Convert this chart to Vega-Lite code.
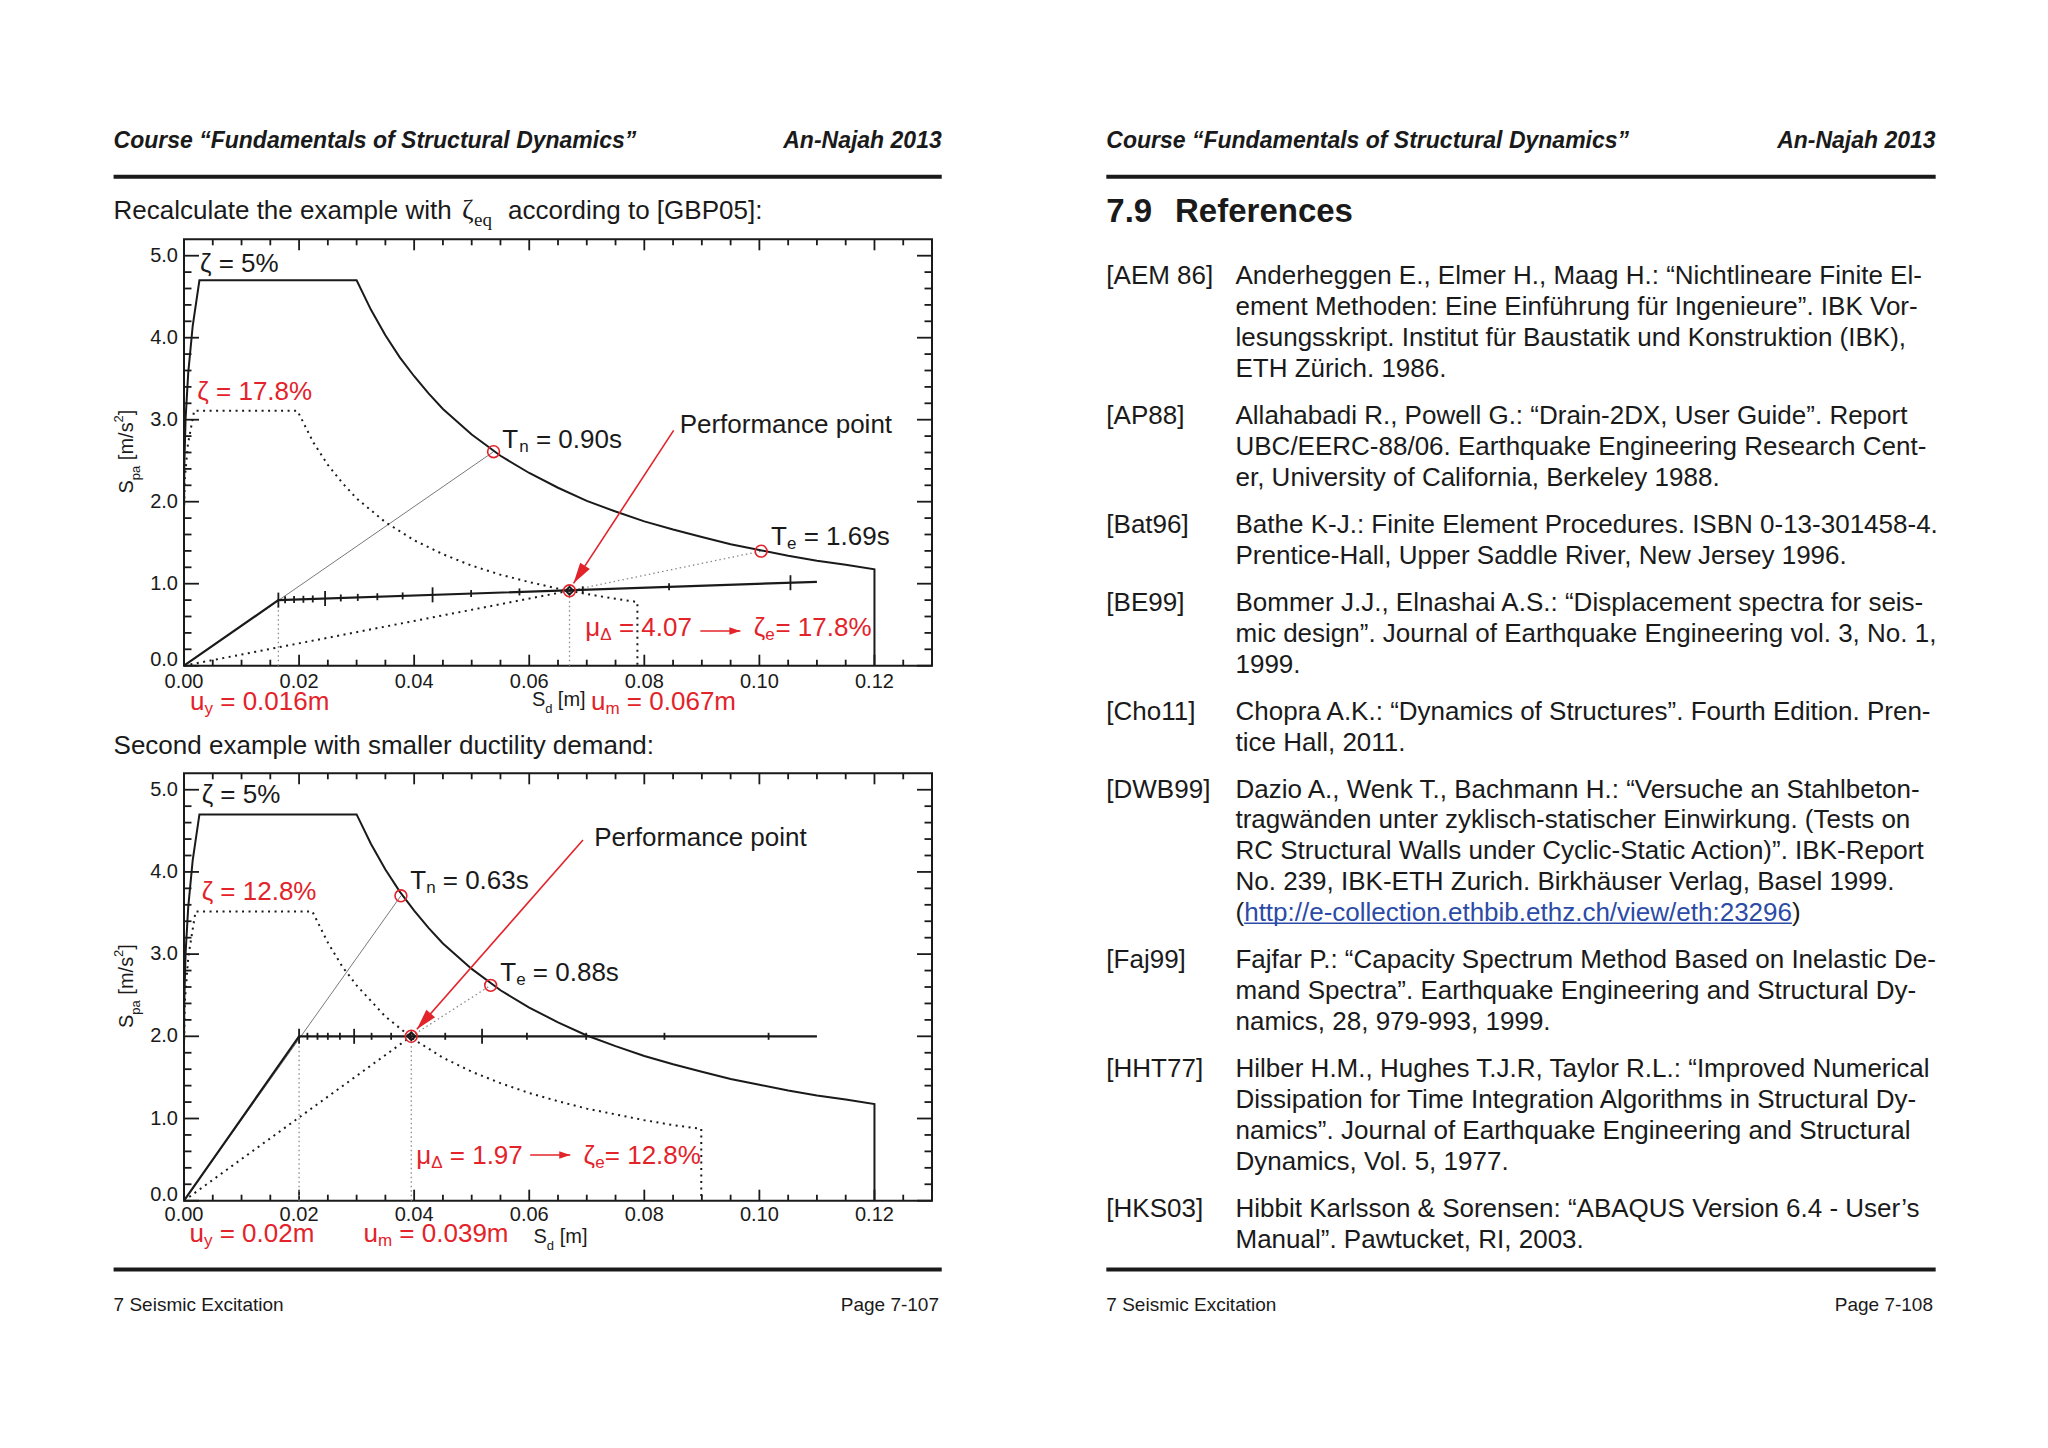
{
"$schema":"https://vega.github.io/schema/vega-lite/v6.json",
"width":2048,"height":1448,"autosize":{"type":"none"},"padding":0,"background":"#ffffff",
"config":{"view":{"stroke":null},"text":{"font":"Liberation Sans","color":"#1a1a1a"}},
"datasets":{
"pg_rules":[{"x":16.47,"x2":136.57,"y":25.62},{"x":160.44,"x2":280.71,"y":25.62},{"x":16.47,"x2":136.57,"y":184.13},{"x":160.44,"x2":280.71,"y":184.13}],
"pg_head_l":[{"x":16.47,"y":20.38,"t":"Course “Fundamentals of Structural Dynamics”"},{"x":160.44,"y":20.38,"t":"Course “Fundamentals of Structural Dynamics”"}],
"pg_head_r":[{"x":136.57,"y":20.38,"t":"An-Najah 2013"},{"x":280.71,"y":20.38,"t":"An-Najah 2013"}],
"pg_sec":[{"x":160.44,"y":30.74,"t":"7.9"},{"x":170.4,"y":30.74,"t":"References"}],
"pg_body":[
{"x":16.47,"y":30.6,"t":"Recalculate the example with"},
{"x":73.67,"y":30.6,"t":"according to [GBP05]:"},
{"x":16.47,"y":108.19,"t":"Second example with smaller ductility demand:"},
{"x":160.44,"y":40.03,"t":"[AEM 86]"},
{"x":160.44,"y":60.32,"t":"[AP88]"},
{"x":160.44,"y":76.11,"t":"[Bat96]"},
{"x":160.44,"y":87.41,"t":"[BE99]"},
{"x":160.44,"y":103.2,"t":"[Cho11]"},
{"x":160.44,"y":114.5,"t":"[DWB99]"},
{"x":160.44,"y":139.28,"t":"[Faj99]"},
{"x":160.44,"y":155.07,"t":"[HHT77]"},
{"x":160.44,"y":175.36,"t":"[HKS03]"},
{"x":179.17,"y":40.03,"t":"Anderheggen E., Elmer H., Maag H.: “Nichtlineare Finite El-"},
{"x":179.17,"y":44.52,"t":"ement Methoden: Eine Einführung für Ingenieure”. IBK Vor-"},
{"x":179.17,"y":49.02,"t":"lesungsskript. Institut für Baustatik und Konstruktion (IBK),"},
{"x":179.17,"y":53.52,"t":"ETH Zürich. 1986."},
{"x":179.17,"y":60.32,"t":"Allahabadi R., Powell G.: “Drain-2DX, User Guide”. Report"},
{"x":179.17,"y":64.81,"t":"UBC/EERC-88/06. Earthquake Engineering Research Cent-"},
{"x":179.17,"y":69.31,"t":"er, University of California, Berkeley 1988."},
{"x":179.17,"y":76.11,"t":"Bathe K-J.: Finite Element Procedures. ISBN 0-13-301458-4."},
{"x":179.17,"y":80.61,"t":"Prentice-Hall, Upper Saddle River, New Jersey 1996."},
{"x":179.17,"y":87.41,"t":"Bommer J.J., Elnashai A.S.: “Displacement spectra for seis-"},
{"x":179.17,"y":91.9,"t":"mic design”. Journal of Earthquake Engineering vol. 3, No. 1,"},
{"x":179.17,"y":96.4,"t":"1999."},
{"x":179.17,"y":103.2,"t":"Chopra A.K.: “Dynamics of Structures”. Fourth Edition. Pren-"},
{"x":179.17,"y":107.7,"t":"tice Hall, 2011."},
{"x":179.17,"y":114.5,"t":"Dazio A., Wenk T., Bachmann H.: “Versuche an Stahlbeton-"},
{"x":179.17,"y":118.99,"t":"tragwänden unter zyklisch-statischer Einwirkung. (Tests on"},
{"x":179.17,"y":123.49,"t":"RC Structural Walls under Cyclic-Static Action)”. IBK-Report"},
{"x":179.17,"y":127.98,"t":"No. 239, IBK-ETH Zurich. Birkhäuser Verlag, Basel 1999."},
{"x":179.17,"y":132.48,"t":"("},
{"x":259.86,"y":132.48,"t":")"},
{"x":179.17,"y":139.28,"t":"Fajfar P.: “Capacity Spectrum Method Based on Inelastic De-"},
{"x":179.17,"y":143.78,"t":"mand Spectra”. Earthquake Engineering and Structural Dy-"},
{"x":179.17,"y":148.27,"t":"namics, 28, 979-993, 1999."},
{"x":179.17,"y":155.07,"t":"Hilber H.M., Hughes T.J.R, Taylor R.L.: “Improved Numerical"},
{"x":179.17,"y":159.57,"t":"Dissipation for Time Integration Algorithms in Structural Dy-"},
{"x":179.17,"y":164.07,"t":"namics”. Journal of Earthquake Engineering and Structural"},
{"x":179.17,"y":168.56,"t":"Dynamics, Vol. 5, 1977."},
{"x":179.17,"y":175.36,"t":"Hibbit Karlsson & Sorensen: “ABAQUS Version 6.4 - User’s"},
{"x":179.17,"y":179.86,"t":"Manual”. Pawtucket, RI, 2003."}
],
"pg_zeta":[{"x":67.0,"y":30.6,"t":"ζ"}],
"pg_eq":[{"x":68.74,"y":30.6,"t":"eq"}],
"pg_link":[{"x":180.43,"y":132.48,"t":"http://e-collection.ethbib.ethz.ch/view/eth:23296"}],
"pg_ul":[{"x":180.43,"x2":259.86,"y":133.9}],
"pg_foot_l":[{"x":16.47,"y":189.22,"t":"7 Seismic Excitation"},{"x":160.44,"y":189.22,"t":"7 Seismic Excitation"}],
"pg_foot_r":[{"x":136.17,"y":189.22,"t":"Page 7-107"},{"x":280.32,"y":189.22,"t":"Page 7-108"}],
"ymaj":[{"v":0},{"v":1},{"v":2},{"v":3},{"v":4},{"v":5}],
"ymin":[{"v":0.2},{"v":0.4},{"v":0.6},{"v":0.8},{"v":1.2},{"v":1.4},{"v":1.6},{"v":1.8},{"v":2.2},{"v":2.4},{"v":2.6},{"v":2.8},{"v":3.2},{"v":3.4},{"v":3.6},{"v":3.8},{"v":4.2},{"v":4.4},{"v":4.6},{"v":4.8}],
"xmaj":[{"v":0},{"v":0.02},{"v":0.04},{"v":0.06},{"v":0.08},{"v":0.1},{"v":0.12}],
"xmin":[{"v":0.005},{"v":0.01},{"v":0.015},{"v":0.025},{"v":0.03},{"v":0.035},{"v":0.045},{"v":0.05},{"v":0.055},{"v":0.065},{"v":0.07},{"v":0.075},{"v":0.085},{"v":0.09},{"v":0.095},{"v":0.105},{"v":0.11},{"v":0.115},{"v":0.125}],
"spec5":[{"x":0,"y":1.88},{"x":0.000056,"y":2.44},{"x":0.000274,"y":3.01},{"x":0.000733,"y":3.57},{"x":0.00151,"y":4.14},{"x":0.00268,"y":4.7},{"x":0.03,"y":4.7},{"x":0.0325,"y":4.34},{"x":0.035,"y":4.03},{"x":0.0375,"y":3.76},{"x":0.04,"y":3.53},{"x":0.0425,"y":3.32},{"x":0.045,"y":3.13},{"x":0.05,"y":2.82},{"x":0.055,"y":2.56},{"x":0.06,"y":2.35},{"x":0.065,"y":2.17},{"x":0.07,"y":2.01},{"x":0.075,"y":1.88},{"x":0.08,"y":1.76},{"x":0.085,"y":1.66},{"x":0.09,"y":1.57},{"x":0.095,"y":1.48},{"x":0.1,"y":1.41},{"x":0.105,"y":1.34},{"x":0.11,"y":1.28},{"x":0.115,"y":1.23},{"x":0.12,"y":1.175},{"x":0.12,"y":0}],
"T_spec":[{"x":0,"y":1.88},{"x":0.000145,"y":2.29},{"x":0.000684,"y":2.7},{"x":0.00177,"y":3.11},{"x":0.0197,"y":3.11},{"x":0.0225,"y":2.72},{"x":0.025,"y":2.45},{"x":0.0275,"y":2.23},{"x":0.03,"y":2.04},{"x":0.035,"y":1.75},{"x":0.04,"y":1.53},{"x":0.045,"y":1.36},{"x":0.05,"y":1.22},{"x":0.055,"y":1.11},{"x":0.06,"y":1.02},{"x":0.065,"y":0.94},{"x":0.07,"y":0.874},{"x":0.075,"y":0.816},{"x":0.0788,"y":0.777},{"x":0.0788,"y":0}],
"B_spec":[{"x":0,"y":1.88},{"x":0.000154,"y":2.43},{"x":0.000753,"y":2.97},{"x":0.00201,"y":3.52},{"x":0.0223,"y":3.52},{"x":0.025,"y":3.14},{"x":0.0275,"y":2.85},{"x":0.03,"y":2.62},{"x":0.035,"y":2.24},{"x":0.04,"y":1.96},{"x":0.045,"y":1.74},{"x":0.05,"y":1.57},{"x":0.055,"y":1.43},{"x":0.06,"y":1.31},{"x":0.065,"y":1.21},{"x":0.07,"y":1.12},{"x":0.075,"y":1.05},{"x":0.08,"y":0.98},{"x":0.085,"y":0.92},{"x":0.0899,"y":0.873},{"x":0.0899,"y":0}],
"T_cap":[{"x":0,"y":0},{"x":0.0164,"y":0.8},{"x":0.11,"y":1.023}],
"B_cap":[{"x":0,"y":0},{"x":0.02,"y":2.0},{"x":0.11,"y":2.0}],
"T_tkM":[{"x":0.0164,"y":0.8},{"x":0.02452,"y":0.819},{"x":0.0432,"y":0.864},{"x":0.1054,"y":1.012}],
"T_tkm":[{"x":0.01757,"y":0.803},{"x":0.01913,"y":0.806},{"x":0.02075,"y":0.81},{"x":0.02238,"y":0.814},{"x":0.02725,"y":0.826},{"x":0.0302,"y":0.833},{"x":0.0336,"y":0.841},{"x":0.038,"y":0.851},{"x":0.0499,"y":0.88},{"x":0.0583,"y":0.9},{"x":0.0693,"y":0.926},{"x":0.0843,"y":0.962}],
"B_tkM":[{"x":0.02,"y":2},{"x":0.02957,"y":2},{"x":0.0518,"y":2}],
"B_tkm":[{"x":0.02145,"y":2},{"x":0.0232,"y":2},{"x":0.025,"y":2},{"x":0.0271,"y":2},{"x":0.0326,"y":2},{"x":0.036,"y":2},{"x":0.0394,"y":2},{"x":0.0454,"y":2},{"x":0.0596,"y":2},{"x":0.0699,"y":2},{"x":0.0835,"y":2},{"x":0.1016,"y":2}],
"T_sg":[{"x":0,"y":0,"x2":0.0538,"y2":2.61}],
"T_sb":[{"x":0,"y":0,"x2":0.067,"y2":0.914}],
"T_sd":[{"x":0.067,"y":0.914,"x2":0.1003,"y2":1.397},{"x":0.0164,"y":0,"x2":0.0164,"y2":0.8},{"x":0.067,"y":0,"x2":0.067,"y2":0.914}],
"T_sr":[{"x":0.0851,"y":2.87,"x2":0.0677,"y2":1.004},{"x":0.08974,"y":0.423,"x2":0.0967,"y2":0.423}],
"T_hb":[{"x":0.0677,"y":1.004}],
"T_hs":[{"x":0.0967,"y":0.423}],
"T_circ":[{"x":0.0538,"y":2.61},{"x":0.1003,"y":1.397},{"x":0.067,"y":0.914}],
"T_diam":[{"x":0.067,"y":0.914}],
"B_sg":[{"x":0,"y":0,"x2":0.0377,"y2":3.71}],
"B_sb":[{"x":0,"y":0,"x2":0.0395,"y2":2.0}],
"B_sd":[{"x":0.0395,"y":2.0,"x2":0.0533,"y2":2.62},{"x":0.02,"y":0,"x2":0.02,"y2":2.0},{"x":0.0395,"y":0,"x2":0.0395,"y2":2.0}],
"B_sr":[{"x":0.06934,"y":4.388,"x2":0.04047,"y2":2.085},{"x":0.06017,"y":0.556,"x2":0.06713,"y2":0.556}],
"B_hb":[{"x":0.04047,"y":2.085}],
"B_hs":[{"x":0.06713,"y":0.556}],
"B_circ":[{"x":0.0377,"y":3.71},{"x":0.0533,"y":2.62},{"x":0.0395,"y":2.0}],
"B_diam":[{"x":0.0395,"y":2.0}],
"T_tb":[{"x":0.00278,"y":4.9,"t":"ζ = 5%"},{"x":0.0553,"y":2.75,"t":"T"},{"x":0.06117,"y":2.75,"t":"= 0.90s"},{"x":0.10203,"y":1.571,"t":"T"},{"x":0.10769,"y":1.571,"t":"= 1.69s"},{"x":0.08614,"y":2.932,"t":"Performance point"}],
"T_tbs":[{"x":0.05826,"y":2.75,"t":"n"},{"x":0.1048,"y":1.571,"t":"e"}],
"T_tr":[{"x":0.00232,"y":3.337,"t":"ζ = 17.8%"},{"x":0.06974,"y":0.455,"t":"μ"},{"x":0.07558,"y":0.455,"t":"= 4.07"},{"x":0.09901,"y":0.455,"t":"ζ"},{"x":0.10278,"y":0.455,"t":"= 17.8%"},{"x":0.00104,"y":-0.44,"t":"u"},{"x":0.0063,"y":-0.44,"t":"= 0.016m"},{"x":0.07073,"y":-0.44,"t":"u"},{"x":0.07697,"y":-0.44,"t":"= 0.067m"}],
"T_trs":[{"x":0.07235,"y":0.455,"t":"Δ"},{"x":0.10104,"y":0.455,"t":"e"},{"x":0.00357,"y":-0.44,"t":"y"},{"x":0.07325,"y":-0.44,"t":"m"}],
"T_ax":[{"x":0.06047,"y":-0.418,"t":"S"},{"x":0.06497,"y":-0.418,"t":"[m]"}],
"T_axs":[{"x":0.06278,"y":-0.418,"t":"d"}],
"B_tb":[{"x":0.00307,"y":4.936,"t":"ζ = 5%"},{"x":0.0393,"y":3.893,"t":"T"},{"x":0.04497,"y":3.893,"t":"= 0.63s"},{"x":0.05496,"y":2.766,"t":"T"},{"x":0.06063,"y":2.766,"t":"= 0.88s"},{"x":0.0713,"y":4.409,"t":"Performance point"}],
"B_tbs":[{"x":0.04209,"y":3.893,"t":"n"},{"x":0.05774,"y":2.766,"t":"e"}],
"B_tr":[{"x":0.00307,"y":3.759,"t":"ζ = 12.8%"},{"x":0.04035,"y":0.544,"t":"μ"},{"x":0.04619,"y":0.544,"t":"= 1.97"},{"x":0.06944,"y":0.544,"t":"ζ"},{"x":0.07313,"y":0.544,"t":"= 12.8%"},{"x":0.00094,"y":-0.41,"t":"u"},{"x":0.0062,"y":-0.41,"t":"= 0.02m"},{"x":0.03119,"y":-0.41,"t":"u"},{"x":0.03743,"y":-0.41,"t":"= 0.039m"}],
"B_trs":[{"x":0.04296,"y":0.544,"t":"Δ"},{"x":0.07148,"y":0.544,"t":"e"},{"x":0.00346,"y":-0.41,"t":"y"},{"x":0.0337,"y":-0.41,"t":"m"}],
"B_ax":[{"x":0.06075,"y":-0.438,"t":"S"},{"x":0.06529,"y":-0.438,"t":"[m]"}],
"B_axs":[{"x":0.06306,"y":-0.438,"t":"d"}],
"yt":[{"x":-0.00997,"y":2.1,"t":"S"},{"x":-0.00997,"y":2.507,"t":"[m/s"},{"x":-0.00997,"y":3.054,"t":"]"}],
"yts":[{"x":-0.00997,"y":2.262,"t":"pa"}],
"ytp":[{"x":-0.00997,"y":2.966,"t":"2"}]
},
"layer":[
{"layer":[
{"data":{"name":"pg_rules"},"mark":{"type":"rule","stroke":"#1a1a1a","strokeWidth":4},"encoding":{"x":{"field":"x","type":"quantitative","scale":{"domain":[0,297],"range":[0,2048],"nice":false,"zero":false},"axis":null},"x2":{"field":"x2"},"y":{"field":"y","type":"quantitative","scale":{"domain":[0,210],"range":[0,1448],"nice":false,"zero":false},"axis":null}}},
{"data":{"name":"pg_head_l"},"mark":{"type":"text","fontSize":23,"fontWeight":"bold","fontStyle":"italic","align":"left","baseline":"middle"},"encoding":{"x":{"field":"x","type":"quantitative","scale":{"domain":[0,297],"range":[0,2048],"nice":false,"zero":false},"axis":null},"y":{"field":"y","type":"quantitative","scale":{"domain":[0,210],"range":[0,1448],"nice":false,"zero":false},"axis":null},"text":{"field":"t","type":"nominal"}}},
{"data":{"name":"pg_head_r"},"mark":{"type":"text","fontSize":23,"fontWeight":"bold","fontStyle":"italic","align":"right","baseline":"middle"},"encoding":{"x":{"field":"x","type":"quantitative","scale":{"domain":[0,297],"range":[0,2048],"nice":false,"zero":false},"axis":null},"y":{"field":"y","type":"quantitative","scale":{"domain":[0,210],"range":[0,1448],"nice":false,"zero":false},"axis":null},"text":{"field":"t","type":"nominal"}}},
{"data":{"name":"pg_sec"},"mark":{"type":"text","fontSize":33,"fontWeight":"bold","align":"left","baseline":"middle"},"encoding":{"x":{"field":"x","type":"quantitative","scale":{"domain":[0,297],"range":[0,2048],"nice":false,"zero":false},"axis":null},"y":{"field":"y","type":"quantitative","scale":{"domain":[0,210],"range":[0,1448],"nice":false,"zero":false},"axis":null},"text":{"field":"t","type":"nominal"}}},
{"data":{"name":"pg_body"},"mark":{"type":"text","fontSize":26,"align":"left","baseline":"middle"},"encoding":{"x":{"field":"x","type":"quantitative","scale":{"domain":[0,297],"range":[0,2048],"nice":false,"zero":false},"axis":null},"y":{"field":"y","type":"quantitative","scale":{"domain":[0,210],"range":[0,1448],"nice":false,"zero":false},"axis":null},"text":{"field":"t","type":"nominal"}}},
{"data":{"name":"pg_zeta"},"mark":{"type":"text","font":"Liberation Serif","fontSize":28,"align":"left","baseline":"middle"},"encoding":{"x":{"field":"x","type":"quantitative","scale":{"domain":[0,297],"range":[0,2048],"nice":false,"zero":false},"axis":null},"y":{"field":"y","type":"quantitative","scale":{"domain":[0,210],"range":[0,1448],"nice":false,"zero":false},"axis":null},"text":{"field":"t","type":"nominal"}}},
{"data":{"name":"pg_eq"},"mark":{"type":"text","font":"Liberation Serif","fontSize":19,"align":"left","baseline":"middle","dy":9},"encoding":{"x":{"field":"x","type":"quantitative","scale":{"domain":[0,297],"range":[0,2048],"nice":false,"zero":false},"axis":null},"y":{"field":"y","type":"quantitative","scale":{"domain":[0,210],"range":[0,1448],"nice":false,"zero":false},"axis":null},"text":{"field":"t","type":"nominal"}}},
{"data":{"name":"pg_link"},"mark":{"type":"text","fontSize":26,"align":"left","baseline":"middle","color":"#2b4ba6"},"encoding":{"x":{"field":"x","type":"quantitative","scale":{"domain":[0,297],"range":[0,2048],"nice":false,"zero":false},"axis":null},"y":{"field":"y","type":"quantitative","scale":{"domain":[0,210],"range":[0,1448],"nice":false,"zero":false},"axis":null},"text":{"field":"t","type":"nominal"}}},
{"data":{"name":"pg_ul"},"mark":{"type":"rule","stroke":"#2b4ba6","strokeWidth":1.5},"encoding":{"x":{"field":"x","type":"quantitative","scale":{"domain":[0,297],"range":[0,2048],"nice":false,"zero":false},"axis":null},"x2":{"field":"x2"},"y":{"field":"y","type":"quantitative","scale":{"domain":[0,210],"range":[0,1448],"nice":false,"zero":false},"axis":null}}},
{"data":{"name":"pg_foot_l"},"mark":{"type":"text","fontSize":19,"align":"left","baseline":"middle"},"encoding":{"x":{"field":"x","type":"quantitative","scale":{"domain":[0,297],"range":[0,2048],"nice":false,"zero":false},"axis":null},"y":{"field":"y","type":"quantitative","scale":{"domain":[0,210],"range":[0,1448],"nice":false,"zero":false},"axis":null},"text":{"field":"t","type":"nominal"}}},
{"data":{"name":"pg_foot_r"},"mark":{"type":"text","fontSize":19,"align":"right","baseline":"middle"},"encoding":{"x":{"field":"x","type":"quantitative","scale":{"domain":[0,297],"range":[0,2048],"nice":false,"zero":false},"axis":null},"y":{"field":"y","type":"quantitative","scale":{"domain":[0,210],"range":[0,1448],"nice":false,"zero":false},"axis":null},"text":{"field":"t","type":"nominal"}}}
]},
{"layer":[
{"data":{"values":[{}]},"mark":{"type":"rect","fillOpacity":0,"stroke":"#1a1a1a","strokeWidth":2},"encoding":{"x":{"datum":0,"type":"quantitative","scale":{"domain":[0,0.13],"range":[184,932],"nice":false,"zero":false},"axis":null},"x2":{"datum":0.13},"y":{"datum":0,"type":"quantitative","scale":{"domain":[0,5.2],"range":[665.7,239.3],"nice":false,"zero":false},"axis":null},"y2":{"datum":5.2}}},
{"data":{"name":"ymaj"},"mark":{"type":"tick","orient":"horizontal","size":15,"thickness":1.8,"xOffset":7.5,"color":"#1a1a1a","opacity":1},"encoding":{"x":{"datum":0,"type":"quantitative","scale":{"domain":[0,0.13],"range":[184,932],"nice":false,"zero":false},"axis":null},"y":{"field":"v","type":"quantitative","scale":{"domain":[0,5.2],"range":[665.7,239.3],"nice":false,"zero":false},"axis":null}}},
{"data":{"name":"ymin"},"mark":{"type":"tick","orient":"horizontal","size":7.5,"thickness":1.8,"xOffset":3.75,"color":"#1a1a1a","opacity":1},"encoding":{"x":{"datum":0,"type":"quantitative","scale":{"domain":[0,0.13],"range":[184,932],"nice":false,"zero":false},"axis":null},"y":{"field":"v","type":"quantitative","scale":{"domain":[0,5.2],"range":[665.7,239.3],"nice":false,"zero":false},"axis":null}}},
{"data":{"name":"ymaj"},"mark":{"type":"tick","orient":"horizontal","size":15,"thickness":1.8,"xOffset":-7.5,"color":"#1a1a1a","opacity":1},"encoding":{"x":{"datum":0.13,"type":"quantitative","scale":{"domain":[0,0.13],"range":[184,932],"nice":false,"zero":false},"axis":null},"y":{"field":"v","type":"quantitative","scale":{"domain":[0,5.2],"range":[665.7,239.3],"nice":false,"zero":false},"axis":null}}},
{"data":{"name":"ymin"},"mark":{"type":"tick","orient":"horizontal","size":7.5,"thickness":1.8,"xOffset":-3.75,"color":"#1a1a1a","opacity":1},"encoding":{"x":{"datum":0.13,"type":"quantitative","scale":{"domain":[0,0.13],"range":[184,932],"nice":false,"zero":false},"axis":null},"y":{"field":"v","type":"quantitative","scale":{"domain":[0,5.2],"range":[665.7,239.3],"nice":false,"zero":false},"axis":null}}},
{"data":{"name":"xmaj"},"mark":{"type":"tick","orient":"vertical","size":11,"thickness":1.8,"yOffset":-5.5,"color":"#1a1a1a","opacity":1},"encoding":{"x":{"field":"v","type":"quantitative","scale":{"domain":[0,0.13],"range":[184,932],"nice":false,"zero":false},"axis":null},"y":{"datum":0,"type":"quantitative","scale":{"domain":[0,5.2],"range":[665.7,239.3],"nice":false,"zero":false},"axis":null}}},
{"data":{"name":"xmin"},"mark":{"type":"tick","orient":"vertical","size":6,"thickness":1.8,"yOffset":-3,"color":"#1a1a1a","opacity":1},"encoding":{"x":{"field":"v","type":"quantitative","scale":{"domain":[0,0.13],"range":[184,932],"nice":false,"zero":false},"axis":null},"y":{"datum":0,"type":"quantitative","scale":{"domain":[0,5.2],"range":[665.7,239.3],"nice":false,"zero":false},"axis":null}}},
{"data":{"name":"xmaj"},"mark":{"type":"tick","orient":"vertical","size":11,"thickness":1.8,"yOffset":5.5,"color":"#1a1a1a","opacity":1},"encoding":{"x":{"field":"v","type":"quantitative","scale":{"domain":[0,0.13],"range":[184,932],"nice":false,"zero":false},"axis":null},"y":{"datum":5.2,"type":"quantitative","scale":{"domain":[0,5.2],"range":[665.7,239.3],"nice":false,"zero":false},"axis":null}}},
{"data":{"name":"xmin"},"mark":{"type":"tick","orient":"vertical","size":6,"thickness":1.8,"yOffset":3,"color":"#1a1a1a","opacity":1},"encoding":{"x":{"field":"v","type":"quantitative","scale":{"domain":[0,0.13],"range":[184,932],"nice":false,"zero":false},"axis":null},"y":{"datum":5.2,"type":"quantitative","scale":{"domain":[0,5.2],"range":[665.7,239.3],"nice":false,"zero":false},"axis":null}}},
{"data":{"name":"ymaj"},"transform":[{"filter":"datum.v > 0"}],"mark":{"type":"text","fontSize":20,"align":"right","baseline":"middle","dx":-6},"encoding":{"x":{"datum":0,"type":"quantitative","scale":{"domain":[0,0.13],"range":[184,932],"nice":false,"zero":false},"axis":null},"y":{"field":"v","type":"quantitative","scale":{"domain":[0,5.2],"range":[665.7,239.3],"nice":false,"zero":false},"axis":null},"text":{"field":"v","type":"quantitative","format":".1f"}}},
{"data":{"name":"ymaj"},"transform":[{"filter":"datum.v == 0"}],"mark":{"type":"text","fontSize":20,"align":"right","baseline":"middle","dx":-6,"dy":-6},"encoding":{"x":{"datum":0,"type":"quantitative","scale":{"domain":[0,0.13],"range":[184,932],"nice":false,"zero":false},"axis":null},"y":{"field":"v","type":"quantitative","scale":{"domain":[0,5.2],"range":[665.7,239.3],"nice":false,"zero":false},"axis":null},"text":{"field":"v","type":"quantitative","format":".1f"}}},
{"data":{"name":"xmaj"},"mark":{"type":"text","fontSize":20,"align":"center","baseline":"middle","dy":16},"encoding":{"x":{"field":"v","type":"quantitative","scale":{"domain":[0,0.13],"range":[184,932],"nice":false,"zero":false},"axis":null},"y":{"datum":0,"type":"quantitative","scale":{"domain":[0,5.2],"range":[665.7,239.3],"nice":false,"zero":false},"axis":null},"text":{"field":"v","type":"quantitative","format":".2f"}}},
{"data":{"name":"T_sd"},"mark":{"type":"rule","stroke":"#8a8a8a","strokeWidth":1.3,"strokeDash":[1.5,3]},"encoding":{"x":{"field":"x","type":"quantitative","scale":{"domain":[0,0.13],"range":[184,932],"nice":false,"zero":false},"axis":null},"y":{"field":"y","type":"quantitative","scale":{"domain":[0,5.2],"range":[665.7,239.3],"nice":false,"zero":false},"axis":null},"x2":{"field":"x2"},"y2":{"field":"y2"}}},
{"data":{"name":"T_sb"},"mark":{"type":"rule","stroke":"#1a1a1a","strokeWidth":2,"strokeDash":[2,4.5]},"encoding":{"x":{"field":"x","type":"quantitative","scale":{"domain":[0,0.13],"range":[184,932],"nice":false,"zero":false},"axis":null},"y":{"field":"y","type":"quantitative","scale":{"domain":[0,5.2],"range":[665.7,239.3],"nice":false,"zero":false},"axis":null},"x2":{"field":"x2"},"y2":{"field":"y2"}}},
{"data":{"name":"T_sg"},"mark":{"type":"rule","stroke":"#7a7a7a","strokeWidth":1},"encoding":{"x":{"field":"x","type":"quantitative","scale":{"domain":[0,0.13],"range":[184,932],"nice":false,"zero":false},"axis":null},"y":{"field":"y","type":"quantitative","scale":{"domain":[0,5.2],"range":[665.7,239.3],"nice":false,"zero":false},"axis":null},"x2":{"field":"x2"},"y2":{"field":"y2"}}},
{"data":{"name":"T_spec"},"mark":{"type":"line","stroke":"#1a1a1a","strokeWidth":2,"strokeDash":[2,4.5]},"encoding":{"x":{"field":"x","type":"quantitative","scale":{"domain":[0,0.13],"range":[184,932],"nice":false,"zero":false},"axis":null},"y":{"field":"y","type":"quantitative","scale":{"domain":[0,5.2],"range":[665.7,239.3],"nice":false,"zero":false},"axis":null},"order":{"value":null}}},
{"data":{"name":"spec5"},"mark":{"type":"line","stroke":"#1a1a1a","strokeWidth":2},"encoding":{"x":{"field":"x","type":"quantitative","scale":{"domain":[0,0.13],"range":[184,932],"nice":false,"zero":false},"axis":null},"y":{"field":"y","type":"quantitative","scale":{"domain":[0,5.2],"range":[665.7,239.3],"nice":false,"zero":false},"axis":null},"order":{"value":null}}},
{"data":{"name":"T_cap"},"mark":{"type":"line","stroke":"#1a1a1a","strokeWidth":2.2},"encoding":{"x":{"field":"x","type":"quantitative","scale":{"domain":[0,0.13],"range":[184,932],"nice":false,"zero":false},"axis":null},"y":{"field":"y","type":"quantitative","scale":{"domain":[0,5.2],"range":[665.7,239.3],"nice":false,"zero":false},"axis":null},"order":{"value":null}}},
{"data":{"name":"T_tkM"},"mark":{"type":"tick","orient":"vertical","size":15,"thickness":1.8,"color":"#1a1a1a","opacity":1},"encoding":{"x":{"field":"x","type":"quantitative","scale":{"domain":[0,0.13],"range":[184,932],"nice":false,"zero":false},"axis":null},"y":{"field":"y","type":"quantitative","scale":{"domain":[0,5.2],"range":[665.7,239.3],"nice":false,"zero":false},"axis":null}}},
{"data":{"name":"T_tkm"},"mark":{"type":"tick","orient":"vertical","size":7,"thickness":1.8,"color":"#1a1a1a","opacity":1},"encoding":{"x":{"field":"x","type":"quantitative","scale":{"domain":[0,0.13],"range":[184,932],"nice":false,"zero":false},"axis":null},"y":{"field":"y","type":"quantitative","scale":{"domain":[0,5.2],"range":[665.7,239.3],"nice":false,"zero":false},"axis":null}}},
{"data":{"name":"T_sr"},"mark":{"type":"rule","stroke":"#e3232a","strokeWidth":1.6},"encoding":{"x":{"field":"x","type":"quantitative","scale":{"domain":[0,0.13],"range":[184,932],"nice":false,"zero":false},"axis":null},"y":{"field":"y","type":"quantitative","scale":{"domain":[0,5.2],"range":[665.7,239.3],"nice":false,"zero":false},"axis":null},"x2":{"field":"x2"},"y2":{"field":"y2"}}},
{"data":{"name":"T_hb"},"mark":{"type":"point","shape":"M0,0L-0.55,2L0.55,2Z","size":441,"angle":213.1,"filled":true,"color":"#e3232a","opacity":1},"encoding":{"x":{"field":"x","type":"quantitative","scale":{"domain":[0,0.13],"range":[184,932],"nice":false,"zero":false},"axis":null},"y":{"field":"y","type":"quantitative","scale":{"domain":[0,5.2],"range":[665.7,239.3],"nice":false,"zero":false},"axis":null}}},
{"data":{"name":"T_hs"},"mark":{"type":"point","shape":"M0,0L-0.7,2L0.7,2Z","size":121,"angle":90,"filled":true,"color":"#e3232a","opacity":1},"encoding":{"x":{"field":"x","type":"quantitative","scale":{"domain":[0,0.13],"range":[184,932],"nice":false,"zero":false},"axis":null},"y":{"field":"y","type":"quantitative","scale":{"domain":[0,5.2],"range":[665.7,239.3],"nice":false,"zero":false},"axis":null}}},
{"data":{"name":"T_circ"},"mark":{"type":"point","shape":"circle","size":140,"filled":false,"stroke":"#e3232a","strokeWidth":1.6,"opacity":1},"encoding":{"x":{"field":"x","type":"quantitative","scale":{"domain":[0,0.13],"range":[184,932],"nice":false,"zero":false},"axis":null},"y":{"field":"y","type":"quantitative","scale":{"domain":[0,5.2],"range":[665.7,239.3],"nice":false,"zero":false},"axis":null}}},
{"data":{"name":"T_diam"},"mark":{"type":"point","shape":"diamond","size":60,"filled":false,"stroke":"#1a1a1a","strokeWidth":2,"opacity":1},"encoding":{"x":{"field":"x","type":"quantitative","scale":{"domain":[0,0.13],"range":[184,932],"nice":false,"zero":false},"axis":null},"y":{"field":"y","type":"quantitative","scale":{"domain":[0,5.2],"range":[665.7,239.3],"nice":false,"zero":false},"axis":null}}},
{"data":{"name":"T_tb"},"mark":{"type":"text","fontSize":26,"align":"left","baseline":"middle"},"encoding":{"x":{"field":"x","type":"quantitative","scale":{"domain":[0,0.13],"range":[184,932],"nice":false,"zero":false},"axis":null},"y":{"field":"y","type":"quantitative","scale":{"domain":[0,5.2],"range":[665.7,239.3],"nice":false,"zero":false},"axis":null},"text":{"field":"t","type":"nominal"}}},
{"data":{"name":"T_tbs"},"mark":{"type":"text","fontSize":17,"align":"left","baseline":"middle","dy":7},"encoding":{"x":{"field":"x","type":"quantitative","scale":{"domain":[0,0.13],"range":[184,932],"nice":false,"zero":false},"axis":null},"y":{"field":"y","type":"quantitative","scale":{"domain":[0,5.2],"range":[665.7,239.3],"nice":false,"zero":false},"axis":null},"text":{"field":"t","type":"nominal"}}},
{"data":{"name":"T_tr"},"mark":{"type":"text","fontSize":26,"align":"left","baseline":"middle","color":"#e3232a"},"encoding":{"x":{"field":"x","type":"quantitative","scale":{"domain":[0,0.13],"range":[184,932],"nice":false,"zero":false},"axis":null},"y":{"field":"y","type":"quantitative","scale":{"domain":[0,5.2],"range":[665.7,239.3],"nice":false,"zero":false},"axis":null},"text":{"field":"t","type":"nominal"}}},
{"data":{"name":"T_trs"},"mark":{"type":"text","fontSize":17,"align":"left","baseline":"middle","dy":7,"color":"#e3232a"},"encoding":{"x":{"field":"x","type":"quantitative","scale":{"domain":[0,0.13],"range":[184,932],"nice":false,"zero":false},"axis":null},"y":{"field":"y","type":"quantitative","scale":{"domain":[0,5.2],"range":[665.7,239.3],"nice":false,"zero":false},"axis":null},"text":{"field":"t","type":"nominal"}}},
{"data":{"name":"T_ax"},"mark":{"type":"text","fontSize":20,"align":"left","baseline":"middle"},"encoding":{"x":{"field":"x","type":"quantitative","scale":{"domain":[0,0.13],"range":[184,932],"nice":false,"zero":false},"axis":null},"y":{"field":"y","type":"quantitative","scale":{"domain":[0,5.2],"range":[665.7,239.3],"nice":false,"zero":false},"axis":null},"text":{"field":"t","type":"nominal"}}},
{"data":{"name":"T_axs"},"mark":{"type":"text","fontSize":13,"align":"left","baseline":"middle","dy":9},"encoding":{"x":{"field":"x","type":"quantitative","scale":{"domain":[0,0.13],"range":[184,932],"nice":false,"zero":false},"axis":null},"y":{"field":"y","type":"quantitative","scale":{"domain":[0,5.2],"range":[665.7,239.3],"nice":false,"zero":false},"axis":null},"text":{"field":"t","type":"nominal"}}},
{"data":{"name":"yt"},"mark":{"type":"text","fontSize":20,"angle":270,"align":"left","baseline":"middle"},"encoding":{"x":{"field":"x","type":"quantitative","scale":{"domain":[0,0.13],"range":[184,932],"nice":false,"zero":false},"axis":null},"y":{"field":"y","type":"quantitative","scale":{"domain":[0,5.2],"range":[665.7,239.3],"nice":false,"zero":false},"axis":null},"text":{"field":"t","type":"nominal"}}},
{"data":{"name":"yts"},"mark":{"type":"text","fontSize":13,"angle":270,"align":"left","baseline":"middle","dy":9},"encoding":{"x":{"field":"x","type":"quantitative","scale":{"domain":[0,0.13],"range":[184,932],"nice":false,"zero":false},"axis":null},"y":{"field":"y","type":"quantitative","scale":{"domain":[0,5.2],"range":[665.7,239.3],"nice":false,"zero":false},"axis":null},"text":{"field":"t","type":"nominal"}}},
{"data":{"name":"ytp"},"mark":{"type":"text","fontSize":13,"angle":270,"align":"left","baseline":"middle","dy":-8},"encoding":{"x":{"field":"x","type":"quantitative","scale":{"domain":[0,0.13],"range":[184,932],"nice":false,"zero":false},"axis":null},"y":{"field":"y","type":"quantitative","scale":{"domain":[0,5.2],"range":[665.7,239.3],"nice":false,"zero":false},"axis":null},"text":{"field":"t","type":"nominal"}}}
]},
{"layer":[
{"data":{"values":[{}]},"mark":{"type":"rect","fillOpacity":0,"stroke":"#1a1a1a","strokeWidth":2},"encoding":{"x":{"datum":0,"type":"quantitative","scale":{"domain":[0,0.13],"range":[184,932],"nice":false,"zero":false},"axis":null},"x2":{"datum":0.13},"y":{"datum":0,"type":"quantitative","scale":{"domain":[0,5.2],"range":[1200.7,773.3],"nice":false,"zero":false},"axis":null},"y2":{"datum":5.2}}},
{"data":{"name":"ymaj"},"mark":{"type":"tick","orient":"horizontal","size":15,"thickness":1.8,"xOffset":7.5,"color":"#1a1a1a","opacity":1},"encoding":{"x":{"datum":0,"type":"quantitative","scale":{"domain":[0,0.13],"range":[184,932],"nice":false,"zero":false},"axis":null},"y":{"field":"v","type":"quantitative","scale":{"domain":[0,5.2],"range":[1200.7,773.3],"nice":false,"zero":false},"axis":null}}},
{"data":{"name":"ymin"},"mark":{"type":"tick","orient":"horizontal","size":7.5,"thickness":1.8,"xOffset":3.75,"color":"#1a1a1a","opacity":1},"encoding":{"x":{"datum":0,"type":"quantitative","scale":{"domain":[0,0.13],"range":[184,932],"nice":false,"zero":false},"axis":null},"y":{"field":"v","type":"quantitative","scale":{"domain":[0,5.2],"range":[1200.7,773.3],"nice":false,"zero":false},"axis":null}}},
{"data":{"name":"ymaj"},"mark":{"type":"tick","orient":"horizontal","size":15,"thickness":1.8,"xOffset":-7.5,"color":"#1a1a1a","opacity":1},"encoding":{"x":{"datum":0.13,"type":"quantitative","scale":{"domain":[0,0.13],"range":[184,932],"nice":false,"zero":false},"axis":null},"y":{"field":"v","type":"quantitative","scale":{"domain":[0,5.2],"range":[1200.7,773.3],"nice":false,"zero":false},"axis":null}}},
{"data":{"name":"ymin"},"mark":{"type":"tick","orient":"horizontal","size":7.5,"thickness":1.8,"xOffset":-3.75,"color":"#1a1a1a","opacity":1},"encoding":{"x":{"datum":0.13,"type":"quantitative","scale":{"domain":[0,0.13],"range":[184,932],"nice":false,"zero":false},"axis":null},"y":{"field":"v","type":"quantitative","scale":{"domain":[0,5.2],"range":[1200.7,773.3],"nice":false,"zero":false},"axis":null}}},
{"data":{"name":"xmaj"},"mark":{"type":"tick","orient":"vertical","size":11,"thickness":1.8,"yOffset":-5.5,"color":"#1a1a1a","opacity":1},"encoding":{"x":{"field":"v","type":"quantitative","scale":{"domain":[0,0.13],"range":[184,932],"nice":false,"zero":false},"axis":null},"y":{"datum":0,"type":"quantitative","scale":{"domain":[0,5.2],"range":[1200.7,773.3],"nice":false,"zero":false},"axis":null}}},
{"data":{"name":"xmin"},"mark":{"type":"tick","orient":"vertical","size":6,"thickness":1.8,"yOffset":-3,"color":"#1a1a1a","opacity":1},"encoding":{"x":{"field":"v","type":"quantitative","scale":{"domain":[0,0.13],"range":[184,932],"nice":false,"zero":false},"axis":null},"y":{"datum":0,"type":"quantitative","scale":{"domain":[0,5.2],"range":[1200.7,773.3],"nice":false,"zero":false},"axis":null}}},
{"data":{"name":"xmaj"},"mark":{"type":"tick","orient":"vertical","size":11,"thickness":1.8,"yOffset":5.5,"color":"#1a1a1a","opacity":1},"encoding":{"x":{"field":"v","type":"quantitative","scale":{"domain":[0,0.13],"range":[184,932],"nice":false,"zero":false},"axis":null},"y":{"datum":5.2,"type":"quantitative","scale":{"domain":[0,5.2],"range":[1200.7,773.3],"nice":false,"zero":false},"axis":null}}},
{"data":{"name":"xmin"},"mark":{"type":"tick","orient":"vertical","size":6,"thickness":1.8,"yOffset":3,"color":"#1a1a1a","opacity":1},"encoding":{"x":{"field":"v","type":"quantitative","scale":{"domain":[0,0.13],"range":[184,932],"nice":false,"zero":false},"axis":null},"y":{"datum":5.2,"type":"quantitative","scale":{"domain":[0,5.2],"range":[1200.7,773.3],"nice":false,"zero":false},"axis":null}}},
{"data":{"name":"ymaj"},"transform":[{"filter":"datum.v > 0"}],"mark":{"type":"text","fontSize":20,"align":"right","baseline":"middle","dx":-6},"encoding":{"x":{"datum":0,"type":"quantitative","scale":{"domain":[0,0.13],"range":[184,932],"nice":false,"zero":false},"axis":null},"y":{"field":"v","type":"quantitative","scale":{"domain":[0,5.2],"range":[1200.7,773.3],"nice":false,"zero":false},"axis":null},"text":{"field":"v","type":"quantitative","format":".1f"}}},
{"data":{"name":"ymaj"},"transform":[{"filter":"datum.v == 0"}],"mark":{"type":"text","fontSize":20,"align":"right","baseline":"middle","dx":-6,"dy":-6},"encoding":{"x":{"datum":0,"type":"quantitative","scale":{"domain":[0,0.13],"range":[184,932],"nice":false,"zero":false},"axis":null},"y":{"field":"v","type":"quantitative","scale":{"domain":[0,5.2],"range":[1200.7,773.3],"nice":false,"zero":false},"axis":null},"text":{"field":"v","type":"quantitative","format":".1f"}}},
{"data":{"name":"xmaj"},"mark":{"type":"text","fontSize":20,"align":"center","baseline":"middle","dy":14},"encoding":{"x":{"field":"v","type":"quantitative","scale":{"domain":[0,0.13],"range":[184,932],"nice":false,"zero":false},"axis":null},"y":{"datum":0,"type":"quantitative","scale":{"domain":[0,5.2],"range":[1200.7,773.3],"nice":false,"zero":false},"axis":null},"text":{"field":"v","type":"quantitative","format":".2f"}}},
{"data":{"name":"B_sd"},"mark":{"type":"rule","stroke":"#8a8a8a","strokeWidth":1.3,"strokeDash":[1.5,3]},"encoding":{"x":{"field":"x","type":"quantitative","scale":{"domain":[0,0.13],"range":[184,932],"nice":false,"zero":false},"axis":null},"y":{"field":"y","type":"quantitative","scale":{"domain":[0,5.2],"range":[1200.7,773.3],"nice":false,"zero":false},"axis":null},"x2":{"field":"x2"},"y2":{"field":"y2"}}},
{"data":{"name":"B_sb"},"mark":{"type":"rule","stroke":"#1a1a1a","strokeWidth":2,"strokeDash":[2,4.5]},"encoding":{"x":{"field":"x","type":"quantitative","scale":{"domain":[0,0.13],"range":[184,932],"nice":false,"zero":false},"axis":null},"y":{"field":"y","type":"quantitative","scale":{"domain":[0,5.2],"range":[1200.7,773.3],"nice":false,"zero":false},"axis":null},"x2":{"field":"x2"},"y2":{"field":"y2"}}},
{"data":{"name":"B_sg"},"mark":{"type":"rule","stroke":"#7a7a7a","strokeWidth":1},"encoding":{"x":{"field":"x","type":"quantitative","scale":{"domain":[0,0.13],"range":[184,932],"nice":false,"zero":false},"axis":null},"y":{"field":"y","type":"quantitative","scale":{"domain":[0,5.2],"range":[1200.7,773.3],"nice":false,"zero":false},"axis":null},"x2":{"field":"x2"},"y2":{"field":"y2"}}},
{"data":{"name":"B_spec"},"mark":{"type":"line","stroke":"#1a1a1a","strokeWidth":2,"strokeDash":[2,4.5]},"encoding":{"x":{"field":"x","type":"quantitative","scale":{"domain":[0,0.13],"range":[184,932],"nice":false,"zero":false},"axis":null},"y":{"field":"y","type":"quantitative","scale":{"domain":[0,5.2],"range":[1200.7,773.3],"nice":false,"zero":false},"axis":null},"order":{"value":null}}},
{"data":{"name":"spec5"},"mark":{"type":"line","stroke":"#1a1a1a","strokeWidth":2},"encoding":{"x":{"field":"x","type":"quantitative","scale":{"domain":[0,0.13],"range":[184,932],"nice":false,"zero":false},"axis":null},"y":{"field":"y","type":"quantitative","scale":{"domain":[0,5.2],"range":[1200.7,773.3],"nice":false,"zero":false},"axis":null},"order":{"value":null}}},
{"data":{"name":"B_cap"},"mark":{"type":"line","stroke":"#1a1a1a","strokeWidth":2.2},"encoding":{"x":{"field":"x","type":"quantitative","scale":{"domain":[0,0.13],"range":[184,932],"nice":false,"zero":false},"axis":null},"y":{"field":"y","type":"quantitative","scale":{"domain":[0,5.2],"range":[1200.7,773.3],"nice":false,"zero":false},"axis":null},"order":{"value":null}}},
{"data":{"name":"B_tkM"},"mark":{"type":"tick","orient":"vertical","size":15,"thickness":1.8,"color":"#1a1a1a","opacity":1},"encoding":{"x":{"field":"x","type":"quantitative","scale":{"domain":[0,0.13],"range":[184,932],"nice":false,"zero":false},"axis":null},"y":{"field":"y","type":"quantitative","scale":{"domain":[0,5.2],"range":[1200.7,773.3],"nice":false,"zero":false},"axis":null}}},
{"data":{"name":"B_tkm"},"mark":{"type":"tick","orient":"vertical","size":7,"thickness":1.8,"color":"#1a1a1a","opacity":1},"encoding":{"x":{"field":"x","type":"quantitative","scale":{"domain":[0,0.13],"range":[184,932],"nice":false,"zero":false},"axis":null},"y":{"field":"y","type":"quantitative","scale":{"domain":[0,5.2],"range":[1200.7,773.3],"nice":false,"zero":false},"axis":null}}},
{"data":{"name":"B_sr"},"mark":{"type":"rule","stroke":"#e3232a","strokeWidth":1.6},"encoding":{"x":{"field":"x","type":"quantitative","scale":{"domain":[0,0.13],"range":[184,932],"nice":false,"zero":false},"axis":null},"y":{"field":"y","type":"quantitative","scale":{"domain":[0,5.2],"range":[1200.7,773.3],"nice":false,"zero":false},"axis":null},"x2":{"field":"x2"},"y2":{"field":"y2"}}},
{"data":{"name":"B_hb"},"mark":{"type":"point","shape":"M0,0L-0.55,2L0.55,2Z","size":441,"angle":221.25,"filled":true,"color":"#e3232a","opacity":1},"encoding":{"x":{"field":"x","type":"quantitative","scale":{"domain":[0,0.13],"range":[184,932],"nice":false,"zero":false},"axis":null},"y":{"field":"y","type":"quantitative","scale":{"domain":[0,5.2],"range":[1200.7,773.3],"nice":false,"zero":false},"axis":null}}},
{"data":{"name":"B_hs"},"mark":{"type":"point","shape":"M0,0L-0.7,2L0.7,2Z","size":121,"angle":90,"filled":true,"color":"#e3232a","opacity":1},"encoding":{"x":{"field":"x","type":"quantitative","scale":{"domain":[0,0.13],"range":[184,932],"nice":false,"zero":false},"axis":null},"y":{"field":"y","type":"quantitative","scale":{"domain":[0,5.2],"range":[1200.7,773.3],"nice":false,"zero":false},"axis":null}}},
{"data":{"name":"B_circ"},"mark":{"type":"point","shape":"circle","size":140,"filled":false,"stroke":"#e3232a","strokeWidth":1.6,"opacity":1},"encoding":{"x":{"field":"x","type":"quantitative","scale":{"domain":[0,0.13],"range":[184,932],"nice":false,"zero":false},"axis":null},"y":{"field":"y","type":"quantitative","scale":{"domain":[0,5.2],"range":[1200.7,773.3],"nice":false,"zero":false},"axis":null}}},
{"data":{"name":"B_diam"},"mark":{"type":"point","shape":"diamond","size":60,"filled":false,"stroke":"#1a1a1a","strokeWidth":2,"opacity":1},"encoding":{"x":{"field":"x","type":"quantitative","scale":{"domain":[0,0.13],"range":[184,932],"nice":false,"zero":false},"axis":null},"y":{"field":"y","type":"quantitative","scale":{"domain":[0,5.2],"range":[1200.7,773.3],"nice":false,"zero":false},"axis":null}}},
{"data":{"name":"B_tb"},"mark":{"type":"text","fontSize":26,"align":"left","baseline":"middle"},"encoding":{"x":{"field":"x","type":"quantitative","scale":{"domain":[0,0.13],"range":[184,932],"nice":false,"zero":false},"axis":null},"y":{"field":"y","type":"quantitative","scale":{"domain":[0,5.2],"range":[1200.7,773.3],"nice":false,"zero":false},"axis":null},"text":{"field":"t","type":"nominal"}}},
{"data":{"name":"B_tbs"},"mark":{"type":"text","fontSize":17,"align":"left","baseline":"middle","dy":7},"encoding":{"x":{"field":"x","type":"quantitative","scale":{"domain":[0,0.13],"range":[184,932],"nice":false,"zero":false},"axis":null},"y":{"field":"y","type":"quantitative","scale":{"domain":[0,5.2],"range":[1200.7,773.3],"nice":false,"zero":false},"axis":null},"text":{"field":"t","type":"nominal"}}},
{"data":{"name":"B_tr"},"mark":{"type":"text","fontSize":26,"align":"left","baseline":"middle","color":"#e3232a"},"encoding":{"x":{"field":"x","type":"quantitative","scale":{"domain":[0,0.13],"range":[184,932],"nice":false,"zero":false},"axis":null},"y":{"field":"y","type":"quantitative","scale":{"domain":[0,5.2],"range":[1200.7,773.3],"nice":false,"zero":false},"axis":null},"text":{"field":"t","type":"nominal"}}},
{"data":{"name":"B_trs"},"mark":{"type":"text","fontSize":17,"align":"left","baseline":"middle","dy":7,"color":"#e3232a"},"encoding":{"x":{"field":"x","type":"quantitative","scale":{"domain":[0,0.13],"range":[184,932],"nice":false,"zero":false},"axis":null},"y":{"field":"y","type":"quantitative","scale":{"domain":[0,5.2],"range":[1200.7,773.3],"nice":false,"zero":false},"axis":null},"text":{"field":"t","type":"nominal"}}},
{"data":{"name":"B_ax"},"mark":{"type":"text","fontSize":20,"align":"left","baseline":"middle"},"encoding":{"x":{"field":"x","type":"quantitative","scale":{"domain":[0,0.13],"range":[184,932],"nice":false,"zero":false},"axis":null},"y":{"field":"y","type":"quantitative","scale":{"domain":[0,5.2],"range":[1200.7,773.3],"nice":false,"zero":false},"axis":null},"text":{"field":"t","type":"nominal"}}},
{"data":{"name":"B_axs"},"mark":{"type":"text","fontSize":13,"align":"left","baseline":"middle","dy":9},"encoding":{"x":{"field":"x","type":"quantitative","scale":{"domain":[0,0.13],"range":[184,932],"nice":false,"zero":false},"axis":null},"y":{"field":"y","type":"quantitative","scale":{"domain":[0,5.2],"range":[1200.7,773.3],"nice":false,"zero":false},"axis":null},"text":{"field":"t","type":"nominal"}}},
{"data":{"name":"yt"},"mark":{"type":"text","fontSize":20,"angle":270,"align":"left","baseline":"middle"},"encoding":{"x":{"field":"x","type":"quantitative","scale":{"domain":[0,0.13],"range":[184,932],"nice":false,"zero":false},"axis":null},"y":{"field":"y","type":"quantitative","scale":{"domain":[0,5.2],"range":[1200.7,773.3],"nice":false,"zero":false},"axis":null},"text":{"field":"t","type":"nominal"}}},
{"data":{"name":"yts"},"mark":{"type":"text","fontSize":13,"angle":270,"align":"left","baseline":"middle","dy":9},"encoding":{"x":{"field":"x","type":"quantitative","scale":{"domain":[0,0.13],"range":[184,932],"nice":false,"zero":false},"axis":null},"y":{"field":"y","type":"quantitative","scale":{"domain":[0,5.2],"range":[1200.7,773.3],"nice":false,"zero":false},"axis":null},"text":{"field":"t","type":"nominal"}}},
{"data":{"name":"ytp"},"mark":{"type":"text","fontSize":13,"angle":270,"align":"left","baseline":"middle","dy":-8},"encoding":{"x":{"field":"x","type":"quantitative","scale":{"domain":[0,0.13],"range":[184,932],"nice":false,"zero":false},"axis":null},"y":{"field":"y","type":"quantitative","scale":{"domain":[0,5.2],"range":[1200.7,773.3],"nice":false,"zero":false},"axis":null},"text":{"field":"t","type":"nominal"}}}
]}
],
"resolve":{"scale":{"x":"independent","y":"independent"}}
}
